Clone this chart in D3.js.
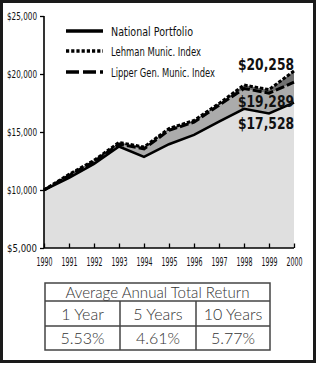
<!DOCTYPE html>
<html><head><meta charset="utf-8">
<script src="https://cdn.jsdelivr.net/npm/d3@7"></script>
<style>
html,body{margin:0;padding:0;background:#fff;}
svg{display:block;}
</style></head>
<body><svg id="c" width="317" height="366"></svg>
<script>
const years = [1990,1991,1992,1993,1994,1995,1996,1997,1998,1999,2000];
const national = [10000,11050,12250,13750,12850,13950,14750,15900,17000,16600,17528];
const lehman   = [10000,11350,12550,14100,13700,15300,16000,17450,19050,18650,20258];
const lipper   = [10000,11250,12450,13950,13550,15150,15850,17300,18750,18350,19289];
const yTicks = [5000,10000,15000,20000,25000];
const seriesNames = ["National Portfolio","Lehman Munic. Index","Lipper Gen. Munic. Index"];
const endLabels = ["$20,258","$19,289","$17,528"];
const tableHeader = "Average Annual Total Return";
const periods = ["1 Year","5 Years","10 Years"];
const returns = ["5.53%","4.61%","5.77%"];

const svg = d3.select("#c");
const narrow = "'DejaVu Sans Condensed','DejaVu Sans',sans-serif";
const x = d3.scaleLinear().domain([1990,2000]).range([44,294]);
const y = d3.scaleLinear().domain([5000,25000]).range([248,16]);

// frame
svg.append("rect").attr("x",1.5).attr("y",1.5).attr("width",313).attr("height",360)
  .attr("fill","#fff").attr("stroke","#1a1a1a").attr("stroke-width",3);

const area = vals => d3.area().x((d,i)=>x(years[i])).y0(y(5000)).y1(d=>y(d))(vals);
const line = vals => d3.line().x((d,i)=>x(years[i])).y(d=>y(d))(vals);

svg.append("path").attr("d",area(lehman)).attr("fill","#707070");
svg.append("path").attr("d",area(lipper)).attr("fill","#ababab");
svg.append("path").attr("d",area(national)).attr("fill","#dfdfdf");

const styles = [
  {dash:null, w:2.6},
  {dash:"3.5,1.8", w:3},
  {dash:"9,3", w:3}
];
const data = [national, lehman, lipper];
[2,1,0].forEach(k=>{
  svg.append("path").attr("d",line(data[k])).attr("fill","none")
    .attr("stroke","#000").attr("stroke-width",styles[k].w)
    .attr("stroke-dasharray",styles[k].dash).attr("stroke-linejoin","miter");
});

// axes
const yAxis = d3.axisLeft(y).tickValues(yTicks).tickSize(4).tickPadding(3)
  .tickFormat(d=>"$"+d3.format(",")(d));
const gy = svg.append("g").attr("transform","translate(44,0)").call(yAxis);
gy.select(".domain").attr("stroke","#000").attr("stroke-width",1.6).attr("d","M0,16V248");
gy.selectAll(".tick line").attr("stroke","#000").attr("stroke-width",1.3);
gy.selectAll("text").attr("font-family",narrow).attr("font-size",11).attr("fill","#111")
  .attr("textLength",30).attr("lengthAdjust","spacingAndGlyphs");

const xAxis = d3.axisBottom(x).tickValues(years).tickSize(0).tickPadding(9).tickFormat(d3.format("d"));
const gx = svg.append("g").attr("transform","translate(0,248)").call(xAxis);
gx.select(".domain").attr("stroke","#000").attr("stroke-width",1.6).attr("d","M44,0H294");
gx.selectAll(".tick").append("line").attr("y1",0).attr("y2",-4.5).attr("stroke","#000").attr("stroke-width",1.3);
gx.selectAll("text").attr("font-family",narrow).attr("font-size",12).attr("fill","#111")
  .attr("textLength",16).attr("lengthAdjust","spacingAndGlyphs");

// legend
const legY = [31,51,72];
const legW = [82,90,104];
seriesNames.forEach((n,i)=>{
  svg.append("line").attr("x1",66).attr("x2",103).attr("y1",legY[i]).attr("y2",legY[i])
    .attr("stroke","#000").attr("stroke-width",3.6)
    .attr("stroke-dasharray", i===0?null:(i===1?"3.2,2":"13,4"));
  svg.append("text").attr("x",111).attr("y",legY[i]+4.5).text(n)
    .attr("font-family",narrow).attr("font-size",12.5).attr("fill","#111")
    .attr("textLength",legW[i]).attr("lengthAdjust","spacingAndGlyphs");
});

// end labels
const endY = [70,107,129];
endLabels.forEach((t,i)=>{
  svg.append("text").attr("x",294).attr("y",endY[i]).attr("text-anchor","end").text(t)
    .attr("font-family",narrow).attr("font-weight","bold").attr("font-size",16.5).attr("fill","#111")
    .attr("textLength",56).attr("lengthAdjust","spacingAndGlyphs");
});

// table
const tx0=45, tx1=270, cols=[45,120,196,270], rows=[283,301,326,350];
const tg = svg.append("g");
tg.append("rect").attr("x",tx0).attr("y",rows[0]).attr("width",tx1-tx0).attr("height",rows[3]-rows[0])
  .attr("fill","#fff").attr("stroke","#444").attr("stroke-width",1.5);
[rows[1],rows[2]].forEach(r=>tg.append("line").attr("x1",tx0).attr("x2",tx1).attr("y1",r).attr("y2",r)
  .attr("stroke","#444").attr("stroke-width",1.5));
[cols[1],cols[2]].forEach(c=>tg.append("line").attr("x1",c).attr("x2",c).attr("y1",rows[1]).attr("y2",rows[3])
  .attr("stroke","#444").attr("stroke-width",1.5));
const tf = "Lato,'Open Sans',sans-serif";
tg.append("text").attr("x",(tx0+tx1)/2).attr("y",297.5).attr("text-anchor","middle").text(tableHeader)
  .attr("font-family",tf).attr("font-weight",300).attr("font-size",15).attr("fill","#333")
  .attr("textLength",184).attr("lengthAdjust","spacingAndGlyphs");
periods.forEach((p,i)=>{
  const cx=(cols[i]+cols[i+1])/2;
  tg.append("text").attr("x",cx).attr("y",319.5).attr("text-anchor","middle").text(p)
    .attr("font-family",tf).attr("font-weight",300).attr("font-size",16).attr("fill","#333");
  tg.append("text").attr("x",cx).attr("y",343.5).attr("text-anchor","middle").text(returns[i])
    .attr("font-family",tf).attr("font-weight",300).attr("font-size",16).attr("fill","#333");
});
</script></body></html>
